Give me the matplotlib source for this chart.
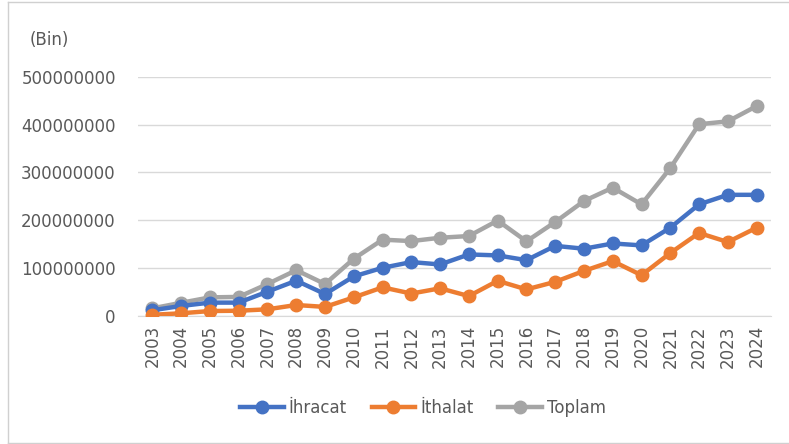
import numpy as np
import matplotlib.pyplot as plt
from matplotlib.lines import Line2D

years = [str(y) for y in range(2003, 2025)]
ihracat = [11, 20, 27, 27, 50, 73, 45, 82, 100, 112, 107, 128,
           126, 116, 146, 140, 151, 147, 184, 233, 253, 253]
ithalat = [1.5, 4.6, 9.4, 10, 13, 22, 18, 38, 59, 46, 57, 40.7,
           72.7, 54.7, 70.6, 93.5, 114, 84.5, 131, 173, 154, 184]
toplam = [15, 26.7, 38, 39, 66, 95, 66, 119, 159, 156, 163, 166.6,
          199, 155.5, 196, 240, 268, 233, 309, 401, 407, 439]
# values read in millions, axis shows raw numbers
ihracat = np.array(ihracat) * 1e6
ithalat = np.array(ithalat) * 1e6
toplam = np.array(toplam) * 1e6

txt = '#595959'
plt.rcParams['font.family'] = ['DejaVu Sans']

fig = plt.figure(figsize=(7.89, 4.44), dpi=100)
# chart frame: left, top and bottom edges (right edge cut off)
l, b, t = 8/789, 1.5/444, 1 - 2.5/444
for xs, ys in [([l, l], [b, t]), ([l, 1], [t, t]), ([l, 1], [b, b])]:
    fig.add_artist(Line2D(xs, ys, transform=fig.transFigure, color='#d0d0d0', lw=1))

ax = fig.add_axes([138/789, 1 - 315.5/444, 633/789, 238.5/444])

x = np.arange(len(years))
ax.plot(x, ihracat, color='#4472C4', lw=3.2, marker='o', ms=9, label='İhracat', zorder=3)
ax.plot(x, ithalat, color='#ED7D31', lw=3.2, marker='o', ms=9, label='İthalat', zorder=3)
ax.plot(x, toplam, color='#A5A5A5', lw=3.2, marker='o', ms=9, label='Toplam', zorder=2)

ax.set_xlim(-0.5, len(years) - 0.5)
ax.set_ylim(0, 500000000)
ax.set_yticks(np.arange(0, 500000001, 100000000))
ax.yaxis.set_major_formatter(plt.FuncFormatter(lambda v, p: '%d' % v))
ax.set_xticks(x)
ax.set_xticklabels(years, rotation=90)
ax.grid(axis='y', color='#d9d9d9', lw=1)
ax.set_axisbelow(True)
for s in ['top', 'right', 'left']:
    ax.spines[s].set_visible(False)
ax.spines['bottom'].set_color('#d9d9d9')
ax.tick_params(axis='both', length=0, colors=txt, labelsize=12)
ax.tick_params(axis='y', pad=16)
ax.tick_params(axis='x', pad=7)

fig.text(30/789, 1 - 40/444, '(Bin)', color=txt, fontsize=12, va='center')

fig.legend(loc='center', bbox_to_anchor=(423/789, 1 - 408/444), ncol=3,
           frameon=False, fontsize=12, labelcolor=txt, handlelength=2.6,
           columnspacing=1.5, handletextpad=0.3)

fig.savefig('out.png', dpi=100)
